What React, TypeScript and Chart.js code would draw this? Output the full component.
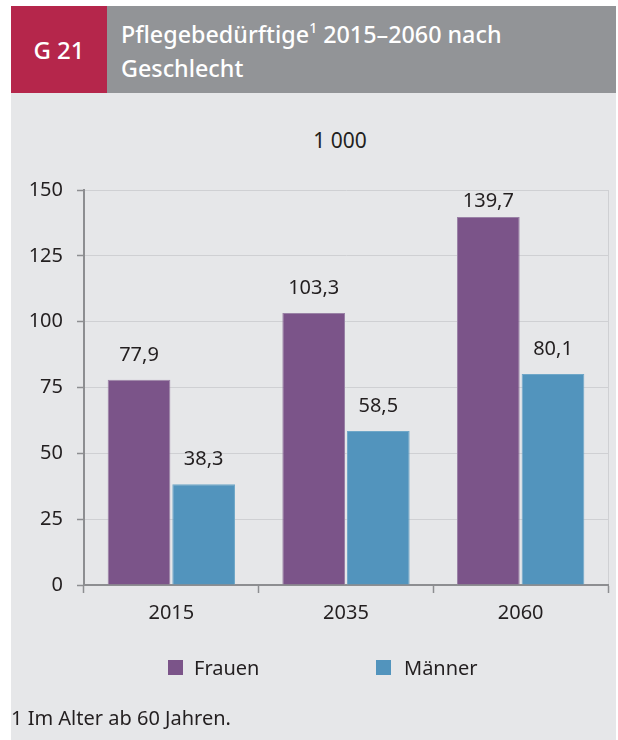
import React, { useEffect, useRef } from 'react';
import { Chart, registerables } from 'chart.js';

Chart.register(...registerables);

// ---- data ----
const years: string[] = ['2015', '2035', '2060'];
const frauen: number[] = [77.9, 103.3, 139.7];
const maenner: number[] = [38.3, 58.5, 80.1];
const seriesNames: string[] = ['Frauen', 'Männer'];
const yMin = 0;
const yMax = 150;
const yStep = 25;
const unitLabel = '1 000';
const chartId = 'G 21';
const titleLine1 = 'Pflegebedürftige';
const titleSup = '1';
const titleLine1b = ' 2015–2060 nach';
const titleLine2 = 'Geschlecht';
const footnote = '1 Im Alter ab 60 Jahren.';

const COLORS = ['#7b5489', '#5294bd'];
const FONT = '"Noto Sans", "Open Sans", sans-serif';
const TEXT = '#231f20';
const AXIS = '#8d8e91';
const GRID = '#cfd0d3';
const PANEL = '#e6e7e9';

const fmt = (v: number) => v.toFixed(1).replace('.', ',');

const valueLabels = {
  id: 'valueLabels',
  afterDatasetsDraw(chart: any) {
    const { ctx, chartArea } = chart;
    ctx.save();
    ctx.font = `20px ${FONT}`;
    ctx.fillStyle = TEXT;
    ctx.textAlign = 'center';
    ctx.textBaseline = 'middle';
    chart.data.datasets.forEach((ds: any, di: number) => {
      const meta = chart.getDatasetMeta(di);
      meta.data.forEach((el: any, i: number) => {
        const y = Math.max(el.y - 25, chartArea.top + 11);
        ctx.fillText(fmt(ds.data[i]), el.x, y);
      });
    });
    ctx.restore();
  },
};

function BarChart() {
  const ref = useRef<HTMLCanvasElement | null>(null);
  useEffect(() => {
    if (!ref.current) return;
    const chart = new Chart(ref.current, {
      type: 'bar',
      data: {
        labels: years,
        datasets: [
          {
            label: seriesNames[0],
            data: frauen,
            backgroundColor: COLORS[0],
            borderColor: '#9a82a6',
            borderWidth: 1,
            categoryPercentage: 0.74,
            barPercentage: 0.97,
          },
          {
            label: seriesNames[1],
            data: maenner,
            backgroundColor: COLORS[1],
            borderColor: '#6fa7c8',
            borderWidth: 1,
            categoryPercentage: 0.74,
            barPercentage: 0.97,
          },
        ],
      },
      options: {
        animation: false,
        responsive: false,
        maintainAspectRatio: false,
        layout: { padding: { top: 190, right: 10, bottom: 115, left: 0 } },
        plugins: {
          legend: { display: false },
          title: { display: false },
          tooltip: { enabled: false },
        },
        scales: {
          x: {
            afterFit: (s: any) => {
              s.height = 40;
            },
            grid: {
              offset: true,
              drawOnChartArea: true,
              color: (c: any) => (c.type === 'scale' ? GRID : 'rgba(0,0,0,0)'),
              tickColor: AXIS,
              tickLength: 8,
              lineWidth: 1,
              tickWidth: 1.5,
            },
            border: { display: true, color: AXIS, width: 2 },
            ticks: {
              padding: 8,
              color: TEXT,
              font: { family: FONT, size: 20 },
            },
          },
          y: {
            min: yMin,
            max: yMax,
            afterFit: (s: any) => {
              s.width = 84;
            },
            grid: {
              color: GRID,
              tickColor: AXIS,
              tickLength: 7,
              lineWidth: 1,
              tickWidth: 1.5,
            },
            border: { display: true, color: AXIS, width: 2 },
            ticks: {
              stepSize: yStep,
              padding: 14,
              color: TEXT,
              font: { family: FONT, size: 20 },
            },
          },
        },
      },
      plugins: [valueLabels],
    });
    return () => chart.destroy();
  }, []);
  return (
    <canvas
      ref={ref}
      width={618}
      height={740}
      style={{ position: 'absolute', left: 0, top: 0, width: 618, height: 740 }}
    />
  );
}

export default function App() {
  const abs = (s: React.CSSProperties): React.CSSProperties => ({ position: 'absolute', ...s });
  return (
    <div
      style={{
        position: 'fixed',
        left: 0,
        top: 0,
        width: 618,
        height: 740,
        background: '#ffffff',
        fontFamily: FONT,
        overflow: 'hidden',
      }}
    >
      <div style={abs({ left: 11, top: 93, width: 605, height: 647, background: PANEL })} />
      <div style={abs({ left: 11, top: 6, width: 96, height: 87, background: '#b5264b' })} />
      <div style={abs({ left: 107, top: 6, width: 509, height: 87, background: '#929497' })} />
      <div
        style={abs({
          left: 11,
          top: 6,
          width: 96,
          height: 87,
          display: 'flex',
          alignItems: 'center',
          justifyContent: 'center',
          color: '#fff',
          fontSize: 24,
          fontWeight: 500,
        })}
      >
        {chartId}
      </div>
      <div
        style={abs({
          left: 121,
          top: 17,
          color: '#fff',
          fontSize: 23.3,
          fontWeight: 500,
          lineHeight: '34px',
          whiteSpace: 'nowrap',
        })}
      >
        {titleLine1}
        <sup style={{ fontSize: 14, verticalAlign: 'top', lineHeight: '22px' }}>{titleSup}</sup>
        {titleLine1b}
        <br />
        {titleLine2}
      </div>
      <div
        style={abs({
          left: 280,
          width: 120,
          top: 127,
          textAlign: 'center',
          fontSize: 21,
          color: TEXT,
          lineHeight: '26px',
        })}
      >
        {unitLabel}
      </div>
      <BarChart />
      <div style={abs({ left: 168, top: 660, width: 15, height: 15, background: COLORS[0] })} />
      <div style={abs({ left: 194, top: 655, fontSize: 20, color: TEXT, lineHeight: '25px' })}>
        {seriesNames[0]}
      </div>
      <div style={abs({ left: 376, top: 660, width: 15, height: 15, background: COLORS[1] })} />
      <div style={abs({ left: 404, top: 655, fontSize: 20, color: TEXT, lineHeight: '25px' })}>
        {seriesNames[1]}
      </div>
      <div style={abs({ left: 11, top: 706, fontSize: 20, color: TEXT, lineHeight: '24px' })}>
        {footnote}
      </div>
    </div>
  );
}
